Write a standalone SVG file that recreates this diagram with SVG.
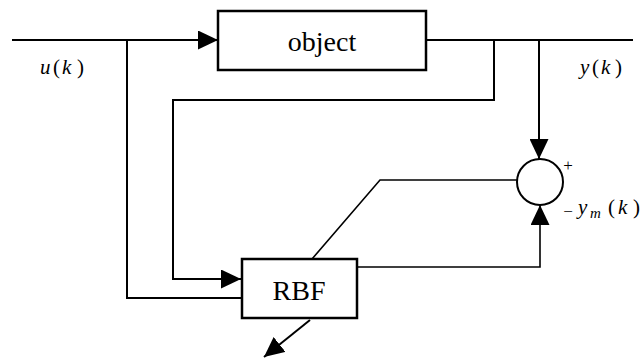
<svg xmlns="http://www.w3.org/2000/svg" width="641" height="358" viewBox="0 0 641 358">
<style>
.ln{fill:none;stroke:#000;stroke-width:2}
.thin{fill:none;stroke:#000;stroke-width:1.6}
.box{fill:#fff;stroke:#000;stroke-width:2.5}
</style>
<defs>
<marker id="ahb" viewBox="0 0 10 10" refX="10" refY="5" markerWidth="20" markerHeight="19" markerUnits="userSpaceOnUse" orient="auto" preserveAspectRatio="none">
<path d="M0,0 L10,5 L0,10 Z" fill="#000"/>
</marker>
</defs>
<rect width="641" height="358" fill="#fff"/>
<g id="connectors">
<line class="ln" x1="12" y1="40" x2="218" y2="40" marker-end="url(#ahb)"/>
<line class="ln" x1="426" y1="40" x2="633" y2="40"/>
<polyline class="ln" points="127,40 127,298 242,298"/>
<polyline class="ln" points="494,40 494,100 173,100 173,279 241,279" marker-end="url(#ahb)"/>
<line class="ln" x1="539" y1="40" x2="539" y2="159" marker-end="url(#ahb)"/>
<polyline class="thin" points="517,180 380,180 312,259"/>
<polyline class="thin" points="357,267 540,267 540,205" marker-end="url(#ahb)"/>
<line class="ln" x1="310" y1="320" x2="264" y2="357" marker-end="url(#ahb)"/>
</g>
<g id="object">
<rect class="box" x="218" y="11" width="208" height="59"/>
<text x="322" y="51" text-anchor="middle" font-family="'Times New Roman','Liberation Serif','DejaVu Serif',serif" font-size="28" fill="#000">object</text>
</g>
<g id="sum">
<circle class="ln" cx="540" cy="182" r="23"/>
<text x="568" y="171" text-anchor="middle" font-family="'Times New Roman','Liberation Serif',serif" font-size="17" fill="#000">+</text>
<text x="568" y="217" text-anchor="middle" font-family="'Times New Roman','Liberation Serif',serif" font-size="17" fill="#000">−</text>
</g>
<g id="RBF">
<rect class="box" x="242" y="259" width="115" height="59"/>
<text x="299" y="300" text-anchor="middle" font-family="'Times New Roman','Liberation Serif','DejaVu Serif',serif" font-size="28" fill="#000">RBF</text>
</g>
<g id="labels" font-family="'Times New Roman','Liberation Serif','DejaVu Serif',serif" font-size="21" fill="#000">
<text y="74"><tspan x="40" font-style="italic">u</tspan><tspan x="53">(</tspan><tspan x="62" font-style="italic">k</tspan><tspan x="77">)</tspan></text>
<text y="74"><tspan x="580" font-style="italic">y</tspan><tspan x="592">(</tspan><tspan x="601" font-style="italic">k</tspan><tspan x="615">)</tspan></text>
<text y="214"><tspan x="578" font-style="italic">y</tspan><tspan x="590" y="218" font-style="italic" font-size="15">m</tspan><tspan x="608" y="214">(</tspan><tspan x="618" font-style="italic">k</tspan><tspan x="633">)</tspan></text>
</g>
</svg>
